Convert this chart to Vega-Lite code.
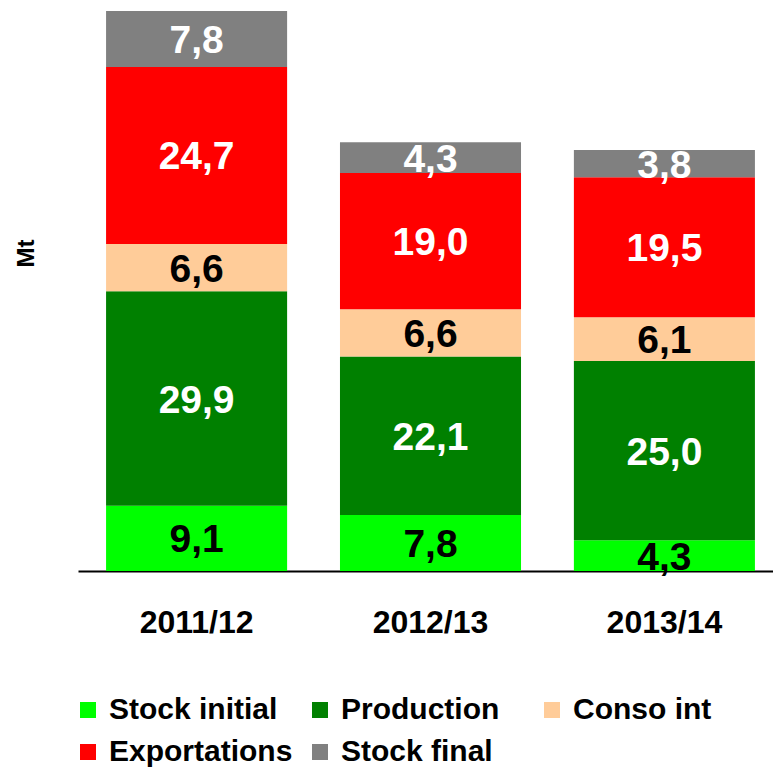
{
  "$schema": "https://vega.github.io/schema/vega-lite/v6.json",
  "autosize": {"type": "none"},
  "padding": {"left": 78, "top": 11, "right": 0, "bottom": 200},
  "width": 695,
  "height": 560,
  "background": "white",
  "config": {
    "view": {"stroke": null},
    "font": "Liberation Sans",
    "locale": {
      "number": {"decimal": ",", "thousands": " ", "grouping": [3], "currency": ["", " €"]}
    }
  },
  "data": {
    "values": [
      {"Year": "2011/12", "Series": "Stock initial", "Value": 9.1},
      {"Year": "2011/12", "Series": "Production", "Value": 29.9},
      {"Year": "2011/12", "Series": "Conso int", "Value": 6.6},
      {"Year": "2011/12", "Series": "Exportations", "Value": 24.7},
      {"Year": "2011/12", "Series": "Stock final", "Value": 7.8},
      {"Year": "2012/13", "Series": "Stock initial", "Value": 7.8},
      {"Year": "2012/13", "Series": "Production", "Value": 22.1},
      {"Year": "2012/13", "Series": "Conso int", "Value": 6.6},
      {"Year": "2012/13", "Series": "Exportations", "Value": 19.0},
      {"Year": "2012/13", "Series": "Stock final", "Value": 4.3},
      {"Year": "2013/14", "Series": "Stock initial", "Value": 4.3},
      {"Year": "2013/14", "Series": "Production", "Value": 25.0},
      {"Year": "2013/14", "Series": "Conso int", "Value": 6.1},
      {"Year": "2013/14", "Series": "Exportations", "Value": 19.5},
      {"Year": "2013/14", "Series": "Stock final", "Value": 3.8}
    ]
  },
  "transform": [
    {"calculate": "indexof(['Stock initial','Production','Conso int','Exportations','Stock final'], datum.Series)", "as": "ord"},
    {"stack": "Value", "groupby": ["Year"], "sort": [{"field": "ord", "order": "ascending"}], "as": ["v0", "v1"]},
    {"calculate": "(datum.v0 + datum.v1) / 2", "as": "vmid"}
  ],
  "encoding": {
    "x": {
      "field": "Year",
      "type": "nominal",
      "scale": {"range": [0, 705], "paddingInner": 0.226, "paddingOuter": 0.12},
      "axis": {
        "title": null,
        "labelAngle": 0,
        "labelFont": "Liberation Sans",
        "labelFontWeight": "bold",
        "labelFontSize": 32,
        "labelColor": "black",
        "labelBaseline": "middle",
        "labelPadding": 51,
        "ticks": false,
        "domainColor": "black",
        "domainWidth": 2
      }
    }
  },
  "layer": [
    {
      "mark": {"type": "bar"},
      "encoding": {
        "y": {
          "field": "v0",
          "type": "quantitative",
          "scale": {"domain": [0, 78.1], "nice": false},
          "axis": {
            "title": "Mt",
            "titleFont": "Liberation Sans",
            "titleFontWeight": "bold",
            "titleFontSize": 24,
            "titleColor": "black",
            "titleAngle": -90,
            "titleX": -52,
            "titleY": 242,
            "titleBaseline": "middle",
            "titleAlign": "center",
            "labels": false,
            "ticks": false,
            "domain": false,
            "grid": false
          }
        },
        "y2": {"field": "v1"},
        "color": {
          "field": "Series",
          "type": "nominal",
          "scale": {
            "domain": ["Stock initial", "Production", "Conso int", "Exportations", "Stock final"],
            "range": ["#00FF00", "#008000", "#FFCC99", "#FF0000", "#808080"]
          },
          "legend": {
            "title": null,
            "orient": "none",
            "legendX": -5,
            "legendY": 684,
            "direction": "horizontal",
            "columns": 3,
            "gridAlign": "all",
            "columnPadding": 12,
            "rowPadding": 12,
            "padding": 0,
            "symbolType": "square",
            "symbolSize": 256,
            "symbolStrokeWidth": 0,
            "symbolOpacity": 1,
            "labelOffset": 6,
            "labelFont": "Liberation Sans",
            "labelFontWeight": "bold",
            "labelFontSize": 30,
            "labelColor": "black",
            "labelLimit": 400,
            "labelExpr": "datum.value == 'Stock initial' ? '\\u2002Stock initial' : datum.label"
          }
        }
      }
    },
    {
      "mark": {"type": "text", "font": "Liberation Sans", "fontWeight": "bold", "fontSize": 39, "baseline": "middle", "align": "center", "dy": 2},
      "encoding": {
        "y": {"field": "vmid", "type": "quantitative"},
        "text": {"field": "Value", "type": "quantitative", "format": ".1f", "formatType": "number"},
        "color": {
          "condition": {"test": "datum.Series === 'Stock initial' || datum.Series === 'Conso int'", "value": "black"},
          "value": "white"
        }
      }
    }
  ]
}
